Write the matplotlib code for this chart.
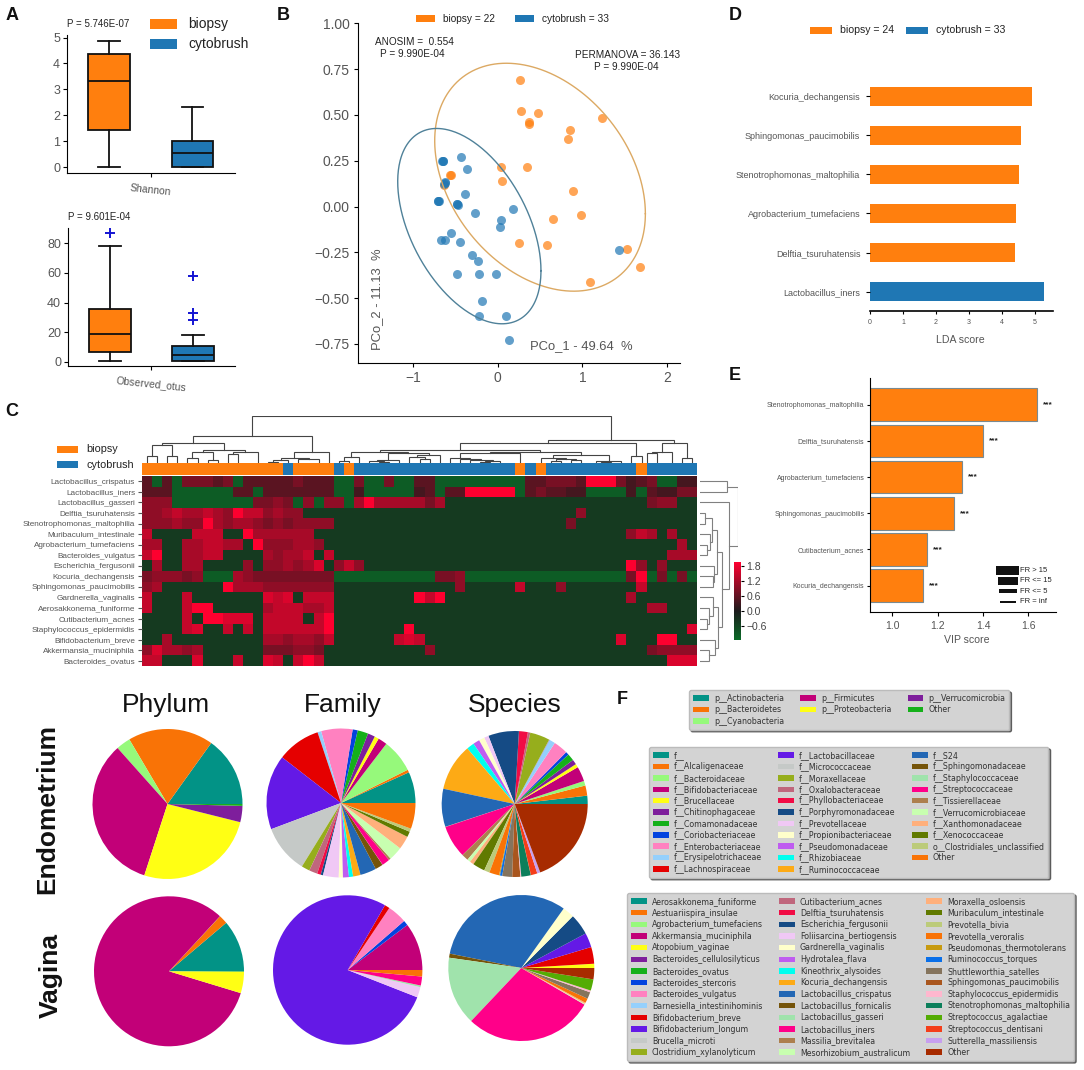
import matplotlib
matplotlib.use('Agg')
import matplotlib.pyplot as plt
import numpy as np
from matplotlib.colors import LinearSegmentedColormap
from matplotlib.patches import Patch, Rectangle

plt.rcParams['font.family'] = ['Liberation Sans', 'DejaVu Sans']

W, H = 1084, 1070
ORANGE = '#ff7f0e'
BLUE = '#1f77b4'
GREY = '#555555'

# panel A
shannon_biopsy = dict(whislo=0, q1=1.42, med=3.32, q3=4.38, whishi=4.88, fliers=[])
shannon_cyto = dict(whislo=0, q1=0, med=0.55, q3=1.0, whishi=2.3, fliers=[])
otus_biopsy = dict(whislo=1, q1=6.5, med=19, q3=36, whishi=78, fliers=[87])
otus_cyto = dict(whislo=1, q1=1, med=5, q3=11, whishi=18, fliers=[28.5, 33, 58])

# panel B
biopsy_x = [.260, .272, .472, .374, .374, .854, 1.228, .831, .043, .350, .055, .890, .980, .654, .248, .579,
            1.531, 1.685, 1.091, -.551, -.563, -.634]
biopsy_y = [.689, .522, .509, .460, .449, .420, .482, .371, .216, .213, .140, .085, -.047, -.069, -.198, -.209,
            -.233, -.329, -.411, .171, .171, .118]
cyto_x = [-.437, -.650, -.654, -.650, -.366, -.626, -.626, -.634, -.390, -.697, -.701, -.701, -.476, -.472, -.476,
          -.264, .181, .043, .028, -.555, -.665, -.618, -.445, -.307, -.236, -.476, -.224, -.020, -.181, -.224,
          .102, .130, 1.433]
cyto_y = [.273, .251, .249, .251, .207, .136, .131, .124, .071, .029, .029, .029, .015, .009, .013,
          -.038, -.015, -.075, -.111, -.142, -.180, -.180, -.193, -.267, -.300, -.369, -.369, -.367, -.518, -.596,
          -.596, -.729, -.238]
# centre x, centre y, half width, half height, correlation
biopsy_ell = (0.5, 0.16, 1.244, 0.622, -0.32)
cyto_ell = (-0.335, -0.107, 0.846, 0.533, -0.456)

# panel C
species_rows = ['Lactobacillus_crispatus', 'Lactobacillus_iners', 'Lactobacillus_gasseri', 'Delftia_tsuruhatensis',
                'Stenotrophomonas_maltophilia', 'Muribaculum_intestinale', 'Agrobacterium_tumefaciens',
                'Bacteroides_vulgatus', 'Escherichia_fergusonii', 'Kocuria_dechangensis',
                'Sphingomonas_paucimobilis', 'Gardnerella_vaginalis', 'Aerosakkonema_funiforme',
                'Cutibacterium_acnes', 'Staphylococcus_epidermidis', 'Bifidobacterium_breve',
                'Akkermansia_muciniphila', 'Bacteroides_ovatus']
heat_levels = {'g': -0.95, 'd': -0.45, '1': 0.35, '2': 0.55, '3': 0.8, '4': 1.0, '5': 1.2, '6': 1.45, '7': 1.65, '8': 1.95}
heat_rows = [
    '2g2g33323g 222223222g g3gg3gg22g gggggggg22 3332888312 3gg11',
    '222gggggg2 2g2222222g g1ggggg12g 2288888g23 2211gggg1g 21133',
    '444ggggggg g3343g4g44 g585555535 dddddddddd dddddddddd 344dd',
    '4456556548 664544dddd dddddddddd dddddddddd ddd4dddddd ddddd',
    '4445448545 543434444d dddddddddd dddddddddd dd3ddddddd ddddd',
    '6dddd666dd 8555555ddd dddddddddd dddddddddd dddddddd46 5d5dd',
    '55dd556655 d8444554dd dddddddddd dddddddddd dddddddddd ddd5d',
    '68dd5566dd dd54556d6d dddddddddd dddddddddd dddddddddd dd555',
    'd5dd55dddd 4d445457d4 64dddddddd dddddddddd dddddddd84 d4ddd',
    '344434ggg5 433333333g ggggggggg3 34gggggggg gggggggg38 g3g3g',
    '45dddddd85 554444444d dddddddddd d4ddddd6dd d4ddddddd6 ddddd',
    '6ddd6ddddd dd767d666d ddddddd868 dddddddddd dddddddd5d ddddd',
    '6ddd688ddd dd5666556d dddddddddd dddddddddd dddddddddd 55ddd',
    'dddd6d8877 7d6666d68d dddddddddd dddddddddd dddddddddd ddddd',
    'dddd67dd6d 6d6666668d dddddd8ddd dddddddddd dddddddddd dddd7',
    'dd5ddddddd dd5545546d ddddd676dd dddddddddd ddddddd7dd d88dd',
    '475545dddd dd333443dd dddddddd4d dddddddddd dddddddddd 34444',
    '66ddd7ddd6 dd76d686dd dddddddddd dddddddddd dddddddddd dd777',
]
col_group = 'oooooooooooooo c oooo c o cccccccccccccccc o c o ccccccccc o ccccc'.replace(' ', '')
# left x, right x, left base, right base, top
col_tree = [
    (0.5, 1.5, 0, 0, 22), (2.5, 3.5, 0, 0, 20), (1.0, 3.0, 22, 20, 54), (4.5, 5.5, 0, 0, 15), (6.5, 7.5, 0, 0, 10),
    (5.0, 7.0, 15, 10, 32), (8.5, 9.5, 0, 0, 27), (9.0, 11.5, 27, 0, 32), (6.0, 10.25, 32, 32, 38),
    (2.0, 8.1, 54, 38, 60), (12.5, 13.5, 0, 0, 3), (13.0, 14.5, 3, 0, 8), (15.5, 17.5, 0, 0, 12),
    (13.75, 16.5, 8, 12, 15), (15.1, 18.5, 15, 0, 32), (5.05, 16.8, 60, 32, 80), (19.5, 20.5, 0, 0, 5),
    (20.0, 21.5, 5, 0, 17), (23.5, 24.5, 0, 0, 3), (22.5, 24.0, 0, 3, 6), (23.25, 25.5, 6, 0, 10),
    (27.5, 28.5, 0, 0, 12), (26.5, 28.0, 0, 12, 17), (27.25, 29.5, 17, 0, 24), (24.4, 28.4, 10, 24, 30),
    (20.75, 26.4, 17, 30, 34), (33.5, 34.5, 0, 0, 3), (34.0, 35.5, 3, 0, 5), (32.5, 34.75, 0, 5, 8),
    (31.5, 33.6, 0, 8, 12), (30.5, 32.55, 0, 12, 15), (31.5, 37.5, 15, 0, 30), (40.5, 41.5, 0, 0, 6),
    (42.5, 43.5, 0, 0, 8), (41.0, 43.0, 6, 8, 12), (39.5, 42.0, 0, 12, 14), (45.5, 46.5, 0, 0, 3),
    (45.0, 47.5, 0, 3, 5), (40.75, 46.25, 14, 5, 25), (34.5, 43.5, 30, 25, 32), (23.6, 39.45, 34, 32, 39),
    (48.5, 49.5, 0, 0, 20), (31.5, 49.0, 39, 20, 59), (50.0, 51.0, 0, 0, 30), (50.5, 52.5, 30, 0, 32),
    (53.5, 54.5, 0, 0, 15), (51.5, 54.0, 32, 15, 59), (40.25, 52.75, 59, 59, 69), (10.9, 46.5, 80, 69, 140),
]
row_tree = [
    (0, 1, 0, 0, 80), (3, 4, 0, 0, 15), (6, 7, 0, 0, 20), (5, 6.5, 0, 20, 30), (3.5, 5.75, 15, 30, 37),
    (9, 10, 0, 0, 38), (8, 9.5, 0, 38, 42), (4.6, 8.75, 37, 42, 50), (13, 14, 0, 0, 20), (12, 13.5, 0, 20, 28),
    (11, 12.75, 0, 28, 38), (16, 17, 0, 0, 28), (15, 16.5, 0, 28, 45), (11.9, 15.75, 38, 45, 55),
    (6.7, 13.8, 50, 55, 65), (2, 10.25, 0, 65, 85), (0.5, 6.1, 80, 85, 113),
]

# panel D
lda_names = ['Lactobacillus_iners', 'Delftia_tsuruhatensis', 'Agrobacterium_tumefaciens',
             'Stenotrophomonas_maltophilia', 'Sphingomonas_paucimobilis', 'Kocuria_dechangensis']
lda_scores = [5.28, 4.42, 4.43, 4.53, 4.585, 4.91]

# panel E
vip_names = ['Kocuria_dechangensis', 'Cutibacterium_acnes', 'Sphingomonas_paucimobilis',
             'Agrobacterium_tumefaciens', 'Delftia_tsuruhatensis', 'Stenotrophomonas_maltophilia']
vip_scores = [1.134, 1.151, 1.27, 1.306, 1.40, 1.638]

# panel F
palette = ['#029386', '#f97306', '#96f97b', '#c20078', '#ffff14', '#7e1e9c', '#15b01a', '#0343df', '#ff81c0',
           '#95d0fc', '#e50000', '#6419e6', '#c5c9c7', '#96ae1c', '#c0677d', '#f10c45', '#154b85', '#f0c8f5',
           '#ffffcb', '#bf5cf0', '#00ffef', '#fdaa15', '#2367b4', '#75540a', '#a0e3ac', '#ff0089', '#ad7f4e',
           '#c8ffb0', '#ffb07c', '#617a00', '#bccb7a', '#f97306', '#c79a10', '#0a6fe8', '#85745d', '#a9561e',
           '#ffb7ce', '#0c7f5b', '#54ac04', '#f43e1a', '#c79fef', '#a72b00']
phylum_names = ['p__Actinobacteria', 'p__Bacteroidetes', 'p__Cyanobacteria', 'p__Firmicutes', 'p__Proteobacteria',
                'p__Verrucomicrobia', 'Other']
phylum_endo = [15.1, 18.4, 3.1, 33.4, 26.1, 3.5, 0.4]
phylum_vag = [11.2, 1.9, 0.03, 82.2, 4.6, 0, 0.1]
family_names = ['f__', 'f__Alcaligenaceae', 'f__Bacteroidaceae', 'f__Bifidobacteriaceae', 'f__Brucellaceae',
                'f__Chitinophagaceae', 'f__Comamonadaceae', 'f__Coriobacteriaceae', 'f__Enterobacteriaceae',
                'f__Erysipelotrichaceae', 'f__Lachnospiraceae', 'f__Lactobacillaceae', 'f__Micrococcaceae',
                'f__Moraxellaceae', 'f__Oxalobacteraceae', 'f__Phyllobacteriaceae', 'f__Porphyromonadaceae',
                'f__Prevotellaceae', 'f__Propionibacteriaceae', 'f__Pseudomonadaceae', 'f__Rhizobiaceae',
                'f__Ruminococcaceae', 'f__S24', 'f__Sphingomonadaceae', 'f__Staphylococcaceae',
                'f__Streptococcaceae', 'f__Tissierellaceae', 'f__Verrucomicrobiaceae', 'f__Xanthomonadaceae',
                'f__Xenococcaceae', 'o__Clostridiales_unclassified', 'Other']
family_endo = [6.75, 0.6, 7.25, 1.97, 0.94, 1.58, 2.3, 1.1, 6.8, 0.8, 9.4, 16.2, 10.5, 1.8, 1.8, 0.8, 0.5, 3.4,
               0.9, 1.3, 0.9, 1.6, 3.5, 1.7, 0.03, 1.7, 0.44, 3.0, 2.9, 1.2, 0.7, 5.6]
family_vag = [0, 0, 0, 10.3, 0, 0, 0, 1.1, 4.2, 0, 1.1, 77.4, 0, 0, 0, 0, 0, 2.25,
              0, 0, 0, 0, 0, 0, 0.36, 1.94, 0, 0, 0, 0, 0, 1.4]
species_names = ['Aerosakkonema_funiforme', 'Aestuariispira_insulae', 'Agrobacterium_tumefaciens',
                 'Akkermansia_muciniphila', 'Atopobium_vaginae', 'Bacteroides_cellulosilyticus', 'Bacteroides_ovatus',
                 'Bacteroides_stercoris', 'Bacteroides_vulgatus', 'Barnesiella_intestinihominis',
                 'Bifidobacterium_breve', 'Bifidobacterium_longum', 'Brucella_microti', 'Clostridium_xylanolyticum',
                 'Cutibacterium_acnes', 'Delftia_tsuruhatensis', 'Escherichia_fergusonii', 'Foliisarcina_bertiogensis',
                 'Gardnerella_vaginalis', 'Hydrotalea_flava', 'Kineothrix_alysoides', 'Kocuria_dechangensis',
                 'Lactobacillus_crispatus', 'Lactobacillus_fornicalis', 'Lactobacillus_gasseri', 'Lactobacillus_iners',
                 'Massilia_brevitalea', 'Mesorhizobium_australicum', 'Moraxella_osloensis', 'Muribaculum_intestinale',
                 'Prevotella_bivia', 'Prevotella_veroralis', 'Pseudomonas_thermotolerans', 'Ruminococcus_torques',
                 'Shuttleworthia_satelles', 'Sphingomonas_paucimobilis', 'Staphylococcus_epidermidis',
                 'Stenotrophomonas_maltophilia', 'Streptococcus_agalactiae', 'Streptococcus_dentisani',
                 'Sutterella_massiliensis', 'Other']
species_endo = [1.83, 2.25, 1.03, 3.3, 0.78, 1.11, 1.53, 0.72, 3.19, 1.33, 0.03, 0.03, 0.03, 4.4, 0.53, 1.97, 6.78,
                1.0, 1.25, 1.44, 1.69, 10.4, 8.4, 0.03, 0.03, 7.2, 1.5, 0.72, 0.89, 2.72, 1.22, 2.19, 0.2, 0.5, 2.2,
                1.78, 0.2, 2.1, 0.03, 1.44, 0.67, 19.3]
species_vag = [0, 0, 0, 0, 0.94, 0, 0, 0, 0, 0, 3.7, 3.2, 0, 0, 0, 0, 4.7, 0, 2.6, 0, 0, 0, 31.7, 0.9, 15.2, 28.7,
               0, 0.17, 0.28, 0, 0, 1.0, 0, 0, 1.5, 0, 0.4, 0, 2.5, 0, 0, 2.5]

fig = plt.figure(figsize=(W / 100, H / 100), dpi=100)


def ax_px(l, t, r, b):
    return fig.add_axes([l / W, 1 - b / H, (r - l) / W, (b - t) / H])


def txt(x, y, s, **kw):
    kw.setdefault('ha', 'left')
    kw.setdefault('va', 'center')
    kw.setdefault('color', '#222222')
    fig.text(x / W, 1 - y / H, s, **kw)


def swatch(x0, y0, x1, y1, color):
    fig.add_artist(Rectangle((x0 / W, 1 - y1 / H), (x1 - x0) / W, (y1 - y0) / H, transform=fig.transFigure,
                             facecolor=color, edgecolor='none'))


def plain_axes(ax):
    ax.spines['top'].set_visible(False)
    ax.spines['right'].set_visible(False)
    ax.patch.set_alpha(0)


def boxes(ax, stats):
    b = ax.bxp(stats, positions=[1, 2], widths=0.5, patch_artist=True, capwidths=0.26,
               medianprops=dict(color='#111111', lw=1.3), boxprops=dict(edgecolor='#111111', lw=1.3),
               whiskerprops=dict(color='#111111', lw=1.3), capprops=dict(color='#111111', lw=1.3),
               flierprops=dict(marker='+', markeredgecolor='#1414d2', markersize=7, markeredgewidth=1.4))
    b['boxes'][0].set_facecolor(ORANGE)
    b['boxes'][1].set_facecolor(BLUE)
    ax.set_xlim(0.497, 2.509)
    ax.set_xticks([1.5])
    ax.set_xticklabels([''])
    plain_axes(ax)
    ax.tick_params(labelsize=9, labelcolor=GREY, length=3, pad=2)


# A
ax = ax_px(67, 35, 235, 173)
boxes(ax, [shannon_biopsy, shannon_cyto])
ax.set_ylim(-0.23, 5.1)
ax.set_yticks([0, 1, 2, 3, 4, 5])
ax = ax_px(68, 228, 235, 366)
boxes(ax, [otus_biopsy, otus_cyto])
ax.set_ylim(-2.7, 90.3)
ax.set_yticks([0, 20, 40, 60, 80])
txt(67, 24, 'P = 5.746E-07', fontsize=7)
txt(68, 217, 'P = 9.601E-04', fontsize=7)
txt(150.5, 190, 'Shannon', fontsize=7.5, color=GREY, rotation=-6, ha='center')
txt(151.5, 384, 'Observed_otus', fontsize=7.5, color=GREY, rotation=-6, ha='center')
swatch(150, 19, 177, 29, ORANGE)
swatch(150, 39, 177, 49, BLUE)
txt(188, 24, 'biopsy', fontsize=10)
txt(188, 44, 'cytobrush', fontsize=10)

# B
ax = ax_px(358, 23.3, 680, 363)
ax.scatter(biopsy_x, biopsy_y, s=42, color=ORANGE, alpha=0.7, linewidths=0)
ax.scatter(cyto_x, cyto_y, s=42, color=BLUE, alpha=0.7, linewidths=0)
t = np.linspace(0, 2 * np.pi, 300)
for ell, col in ((biopsy_ell, '#dca963'), (cyto_ell, '#4f8199')):
    cx, cy, a, b, rho = ell
    ax.plot(cx + a * np.cos(t), cy + b * np.cos(t - np.arccos(rho)), color=col, lw=1)
ax.set_xlim(-1.65, 2.153)
ax.set_ylim(-0.854, 1.0)
ax.set_xticks([-1, 0, 1, 2])
ax.set_yticks([-0.75, -0.5, -0.25, 0, 0.25, 0.5, 0.75, 1.0])
ax.set_yticklabels(['\u22120.75', '\u22120.50', '\u22120.25', '0.00', '0.25', '0.50', '0.75', '1.00'])
ax.set_xticklabels(['\u22121', '0', '1', '2'])
plain_axes(ax)
ax.tick_params(labelsize=10, labelcolor=GREY, length=3, pad=3)
txt(375, 42, 'ANOSIM =  0.554', fontsize=7.2)
txt(380, 54, 'P = 9.990E-04', fontsize=7.2)
txt(628, 55, 'PERMANOVA = 36.143', fontsize=7.2, ha='center')
txt(626, 67, 'P = 9.990E-04', fontsize=7.2, ha='center')
swatch(415.7, 15, 435, 22, ORANGE)
swatch(514.7, 15, 534, 22, BLUE)
txt(442.7, 19, 'biopsy = 22', fontsize=7.3)
txt(542.3, 19, 'cytobrush = 33', fontsize=7.3)
txt(377, 299, 'PCo_2 - 11.13  %', fontsize=9.4, color=GREY, rotation=90, ha='center')
txt(581, 346, 'PCo_1 - 49.64  %', fontsize=9.4, color=GREY, ha='center')

# C
heat = np.array([[heat_levels[c] for c in row.replace(' ', '')] for row in heat_rows])
heat_cmap = LinearSegmentedColormap.from_list('gkr', [(0, '#0a6b28'), (1.16 / 3.13, '#1c1c1c'), (1, '#ff0030')])
ax = ax_px(142, 476, 697, 666)
im = ax.imshow(heat, aspect='auto', cmap=heat_cmap, vmin=-1.16, vmax=1.97, interpolation='nearest')
ax.set_yticks(range(len(species_rows)))
ax.set_yticklabels(species_rows)
ax.set_xticks([])
ax.tick_params(axis='y', labelsize=5.85, labelcolor=GREY, length=3, pad=2, color=GREY)
for s in ax.spines.values():
    s.set_visible(False)

ax = ax_px(142, 463, 697, 475)
ax.bar(np.arange(len(col_group)) + 0.5, 1, width=1, color=[ORANGE if c == 'o' else BLUE for c in col_group])
ax.set_xlim(0, len(col_group))
ax.set_ylim(0, 1)
ax.axis('off')

ax = ax_px(142, 416, 697, 463)
for x0, x1, b0, b1, top in col_tree:
    ax.plot([x0, x0, x1, x1], [b0, top, top, b1], color='#444444', lw=0.8, solid_joinstyle='miter')
ax.set_xlim(0, 55)
ax.set_ylim(0, 140)
ax.axis('off')

ax = ax_px(700, 476, 738, 666)
for y0, y1, b0, b1, top in row_tree:
    ax.plot([b0, top, top, b1], [y0, y0, y1, y1], color='#808080', lw=0.8, solid_joinstyle='miter')
ax.set_xlim(0, 113)
ax.set_ylim(17.5, -0.5)
ax.axis('off')

cax = ax_px(734, 562, 741, 640)
cb = fig.colorbar(im, cax=cax)
cb.set_ticks([1.8, 1.2, 0.6, 0.0, -0.6])
cb.ax.tick_params(labelsize=7.5, labelcolor='#444444', length=2, pad=2)
cb.outline.set_visible(False)

swatch(56.7, 445.7, 77.7, 452.7, ORANGE)
swatch(56.7, 461, 77.7, 468, BLUE)
txt(86.7, 449, 'biopsy', fontsize=7.8)
txt(86.7, 464.7, 'cytobrush', fontsize=7.8)

# D
ax = ax_px(870, 80, 1053, 310.7)
ax.barh(range(len(lda_scores)), lda_scores, height=0.485, color=[BLUE] + [ORANGE] * 5)
ax.set_xlim(0, 5.56)
ax.set_ylim(-0.485, 5.41)
ax.set_yticks(range(len(lda_names)))
ax.set_yticklabels(lda_names)
ax.set_xticks([0, 1, 2, 3, 4, 5])
plain_axes(ax)
ax.spines['left'].set_visible(False)
ax.spines['bottom'].set_linewidth(1.2)
ax.tick_params(axis='y', labelsize=6.5, labelcolor=GREY, length=3, pad=4)
ax.tick_params(axis='x', labelsize=5, labelcolor=GREY, length=2, pad=4)
txt(960.7, 340, 'LDA score', fontsize=7.6, color=GREY, ha='center')
swatch(810, 26.7, 831.7, 33.7, ORANGE)
swatch(906, 26.7, 927.7, 33.7, BLUE)
txt(839.7, 30, 'biopsy = 24', fontsize=7.6)
txt(935.7, 30, 'cytobrush = 33', fontsize=7.6)

# E
ax = ax_px(870, 378, 1055.7, 612.3)
ax.barh(range(len(vip_scores)), np.array(vip_scores) - 0.9016, left=0.9016, height=0.9, color=ORANGE,
        edgecolor='#7a8a90', linewidth=0.8)
for i, v in enumerate(vip_scores):
    ax.text(v + 0.05, i, '***', ha='center', va='center', fontsize=6, fontweight='bold', color='#222222')
ax.set_xlim(0.9016, 1.7208)
ax.set_ylim(-0.735, 5.738)
ax.set_yticks(range(len(vip_names)))
ax.set_yticklabels(vip_names)
ax.set_xticks([1.0, 1.2, 1.4, 1.6])
plain_axes(ax)
ax.tick_params(axis='y', labelsize=5, labelcolor=GREY, length=2, pad=2)
ax.tick_params(axis='x', labelsize=7.5, labelcolor=GREY, length=3, pad=3)
txt(966.7, 640, 'VIP score', fontsize=7.6, color=GREY, ha='center')
for (x0, y0, x1, y1), lab, y in zip([(996.3, 565.7, 1019.3, 575.3), (997.7, 577.3, 1018, 584.7),
                                     (999.3, 589.3, 1016.7, 593.3), (1000.3, 600.7, 1015.7, 602.7)],
                                    ['FR > 15', 'FR <= 15', 'FR <= 5', 'FR = inf'], [570.7, 581, 591.3, 601.7]):
    swatch(x0, y0, x1, y1, '#111111')
    txt(1020.3, y, lab, fontsize=5.5)

# F pies
pie_spots = [(phylum_endo, 167.5, 804, 75), (family_endo, 341, 803, 74.5), (species_endo, 514.7, 804, 73),
             (phylum_vag, 169, 971.3, 75), (family_vag, 347.7, 970, 74.7), (species_vag, 521.3, 968, 73)]
for vals, cx, cy, r in pie_spots:
    ax = ax_px(cx - r - 1, cy - r - 1, cx + r + 1, cy + r + 1)
    ax.pie(vals, colors=palette[:len(vals)], startangle=0)
    ax.set_xlim(-(r + 1) / r, (r + 1) / r)
    ax.set_ylim(-(r + 1) / r, (r + 1) / r)

for x, s in ((166, 'Phylum'), (342.6, 'Family'), (515, 'Species')):
    txt(x, 705, s, fontsize=19, ha='center', color='#111111')
txt(47.7, 809, 'Endometrium', fontsize=19, fontweight='bold', rotation=90, ha='center', color='#111111')
txt(50.8, 975, 'Vagina', fontsize=19, fontweight='bold', rotation=90, ha='center', color='#111111')


def make_legend(names, x, y, rowgap):
    handles = [Patch(facecolor=palette[i], label=n) for i, n in enumerate(names)]
    leg = fig.legend(handles=handles, ncol=3, loc='upper left', bbox_to_anchor=(x / W, 1 - y / H), borderaxespad=0,
                     facecolor='#d3d3d3', edgecolor='#bbbbbb', framealpha=1, fancybox=True,
                     shadow={'ox': 1.5, 'oy': -1.5, 'facecolor': '#8a8a8a', 'alpha': 0.8},
                     handlelength=2.0, handleheight=0.67, handletextpad=0.63, labelspacing=rowgap, columnspacing=2.05,
                     borderpad=0.5, prop=dict(family='DejaVu Sans', size=5.7))
    for t in leg.get_texts():
        t.set_color('#333333')
    return leg


make_legend(phylum_names, 689, 690, 0.3)
make_legend(family_names, 649, 747, 0.3)
make_legend(species_names, 627, 893, 0.33)

# panel letters
for x, y, s in ((12, 16, 'A'), (283, 15, 'B'), (12, 412, 'C'), (735, 15, 'D'), (735, 376, 'E'), (622, 700, 'F')):
    txt(x, y, s, fontsize=13, fontweight='bold', color='#111111', ha='center')

fig.savefig('out.png', dpi=100)
